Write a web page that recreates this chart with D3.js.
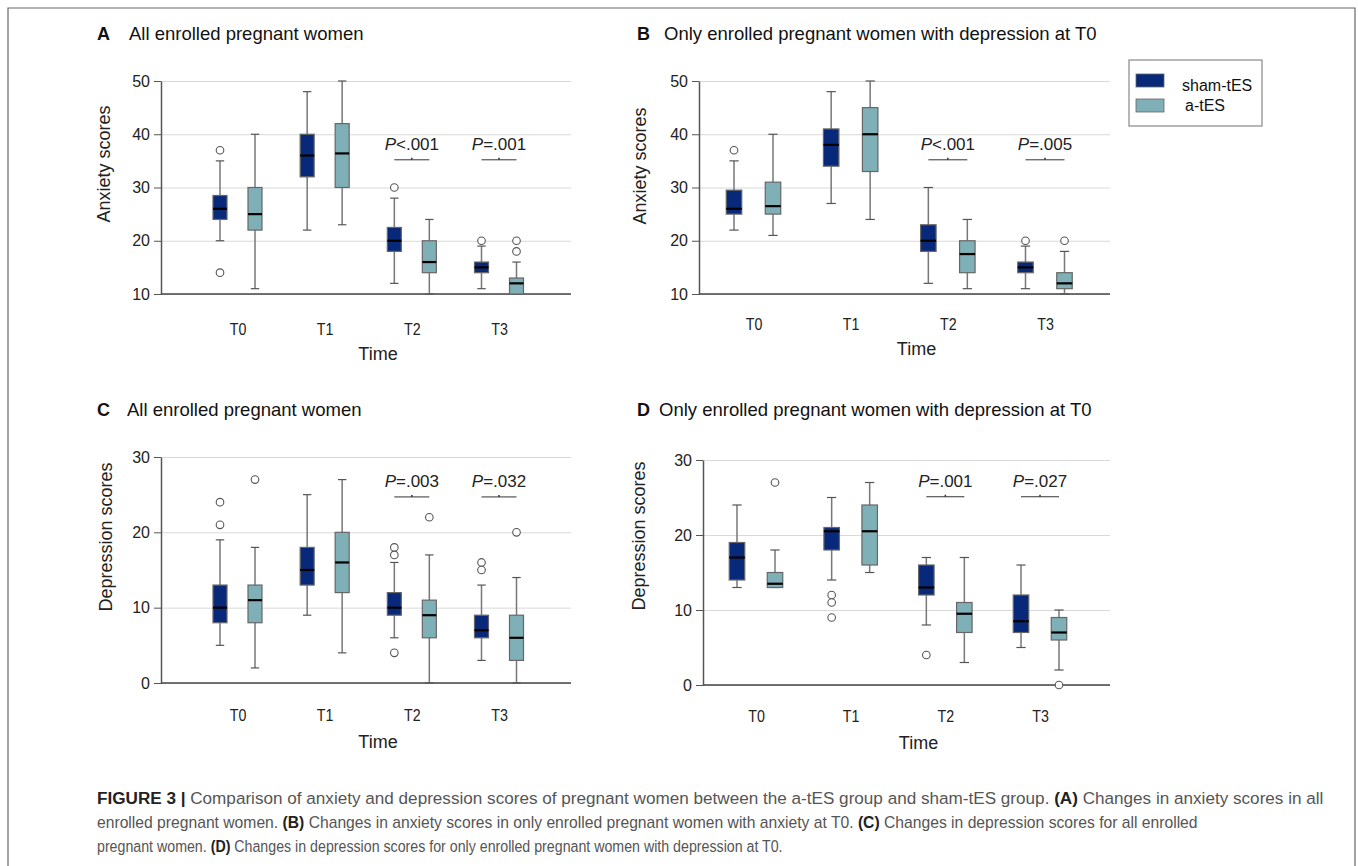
<!DOCTYPE html>
<html>
<head>
<meta charset="utf-8">
<script src="https://cdn.jsdelivr.net/npm/d3@7"></script>
<style>
  body { margin: 0; background: #fff; }
  svg { font-family: "Liberation Sans", Arial, sans-serif; }
  .grid line { stroke: #d9d9d9; }
  .grid .domain { display: none; }
</style>
</head>
<body>
<svg id="fig" width="1358" height="866"></svg>
<script>
// categories
const times = ['T0', 'T1', 'T2', 'T3'];
const groups = ['sham-tES', 'a-tES'];

// box stats per time: [lower whisker, Q1, median, Q3, upper whisker]
// A: anxiety, all enrolled
const anxAllSham = [[20, 24, 26, 28.5, 35], [22, 32, 36, 40, 48], [12, 18, 20, 22.5, 28], [11, 14, 15, 16, 19]];
const anxAllAct  = [[11, 22, 25, 30, 40], [23, 30, 36.4, 42, 50], [10, 14, 16, 20, 24], [10, 10, 12, 13, 16]];
const anxAllShamOut = [[37, 14], [], [30], [20]];
const anxAllActOut  = [[], [], [], [20, 18]];
const anxAllP = ['', '', 'P<.001', 'P=.001'];

// B: anxiety, only women with depression at T0
const anxDepSham = [[22, 25, 26, 29.5, 35], [27, 34, 38, 41, 48], [12, 18, 20, 23, 30], [11, 14, 15, 16, 19]];
const anxDepAct  = [[21, 25, 26.5, 31, 40], [24, 33, 40, 45, 50], [11, 14, 17.5, 20, 24], [10, 11, 12, 14, 18]];
const anxDepShamOut = [[37], [], [], [20]];
const anxDepActOut  = [[], [], [], [20]];
const anxDepP = ['', '', 'P<.001', 'P=.005'];

// C: depression, all enrolled
const depAllSham = [[5, 8, 10, 13, 19], [9, 13, 15, 18, 25], [6, 9, 10, 12, 16], [3, 6, 7, 9, 13]];
const depAllAct  = [[2, 8, 11, 13, 18], [4, 12, 16, 20, 27], [0, 6, 9, 11, 17], [0, 3, 6, 9, 14]];
const depAllShamOut = [[24, 21], [], [18, 17, 4], [16, 15]];
const depAllActOut  = [[27], [], [22], [20]];
const depAllP = ['', '', 'P=.003', 'P=.032'];

// D: depression, only women with depression at T0
const depDepSham = [[13, 14, 17, 19, 24], [14, 18, 20.5, 21, 25], [8, 12, 13, 16, 17], [5, 7, 8.5, 12, 16]];
const depDepAct  = [[13, 13, 13.5, 15, 18], [15, 16, 20.5, 24, 27], [3, 7, 9.5, 11, 17], [2, 6, 7, 9, 10]];
const depDepShamOut = [[], [12, 11, 9], [4], []];
const depDepActOut  = [[27], [], [], [0]];
const depDepP = ['', '', 'P=.001', 'P=.027'];

const anxTicks = [10, 20, 30, 40, 50];
const depTicks = [0, 10, 20, 30];

const colors = { 'sham-tES': '#08297a', 'a-tES': '#80b0b7' };

const panels = [
  { letter: 'A', title: 'All enrolled pregnant women', yLabel: 'Anxiety scores',
    domain: [10, 50], ticks: anxTicks, sham: anxAllSham, act: anxAllAct,
    shamOut: anxAllShamOut, actOut: anxAllActOut, pText: anxAllP, pLevel: 35.2,
    left: 161, right: 571, top: 81, bottom: 294, x0: 237.5, x1: 499, off: 17.5, bw: 14,
    titleX: 97, titleTextX: 129, titleY: 40, yTitleX: 110, yTitleY: 164, tickY: 335, timeY: 360 },
  { letter: 'B', title: 'Only enrolled pregnant women with depression at T0', yLabel: 'Anxiety scores',
    domain: [10, 50], ticks: anxTicks, sham: anxDepSham, act: anxDepAct,
    shamOut: anxDepShamOut, actOut: anxDepActOut, pText: anxDepP, pLevel: 35.2,
    left: 699, right: 1110, top: 81, bottom: 294, x0: 753.5, x1: 1045, off: 19.5, bw: 15.5,
    titleX: 637, titleTextX: 664, titleY: 40, yTitleX: 646, yTitleY: 166, tickY: 330, timeY: 355 },
  { letter: 'C', title: 'All enrolled pregnant women', yLabel: 'Depression scores',
    domain: [0, 30], ticks: depTicks, sham: depAllSham, act: depAllAct,
    shamOut: depAllShamOut, actOut: depAllActOut, pText: depAllP, pLevel: 24.7,
    left: 161, right: 571, top: 457, bottom: 683, x0: 237.5, x1: 499, off: 17.5, bw: 14,
    titleX: 97, titleTextX: 127, titleY: 416, yTitleX: 112, yTitleY: 537, tickY: 721, timeY: 748 },
  { letter: 'D', title: 'Only enrolled pregnant women with depression at T0', yLabel: 'Depression scores',
    domain: [0, 30], ticks: depTicks, sham: depDepSham, act: depDepAct,
    shamOut: depDepShamOut, actOut: depDepActOut, pText: depDepP, pLevel: 25.1,
    left: 703, right: 1110, top: 460, bottom: 685, x0: 756, x1: 1040, off: 19, bw: 15.5,
    titleX: 637, titleTextX: 659, titleY: 416, yTitleX: 645, yTitleY: 536, tickY: 722, timeY: 749 }
];

const svg = d3.select('#fig');

// outer frame (open at the bottom)
svg.append('path')
  .attr('d', 'M8,870 V8 H1355 V870')
  .attr('fill', 'none')
  .attr('stroke', '#666')
  .attr('stroke-width', 1.2);

panels.forEach(p => drawPanel(p));

function drawPanel(p) {
  const g = svg.append('g');

  const y = d3.scaleLinear().domain(p.domain).range([p.bottom, p.top]);
  const x = d3.scalePoint().domain(times).range([p.x0, p.x1]);
  const xg = d3.scalePoint().domain(groups).range([-p.off, p.off]);

  // gridlines
  g.append('g')
    .attr('class', 'grid')
    .attr('transform', `translate(${p.left},0)`)
    .call(d3.axisRight(y).tickValues(p.ticks).tickSize(p.right - p.left).tickFormat(''));

  // y axis
  const yAxis = g.append('g')
    .attr('transform', `translate(${p.left},0)`)
    .call(d3.axisLeft(y).tickValues(p.ticks).tickSize(7).tickPadding(4).tickSizeOuter(0));
  yAxis.select('.domain').attr('stroke', '#555').attr('stroke-width', 1.5);
  yAxis.selectAll('.tick line').attr('stroke', '#555');
  yAxis.selectAll('.tick text').attr('font-size', 16).attr('fill', '#222');

  // baseline
  g.append('line')
    .attr('x1', p.left).attr('x2', p.right)
    .attr('y1', y(p.domain[0])).attr('y2', y(p.domain[0]))
    .attr('stroke', '#444').attr('stroke-width', 1.5);

  // x axis labels (no ticks)
  const xAxis = g.append('g')
    .attr('transform', `translate(0,${p.tickY})`)
    .call(d3.axisBottom(x).tickSize(0).tickPadding(0));
  xAxis.select('.domain').remove();
  xAxis.selectAll('.tick text')
    .attr('dy', 0)
    .attr('y', 0)
    .attr('font-size', 15)
    .attr('fill', '#222')
    .attr('transform', 'scale(0.95,1.1)');

  // axis titles
  g.append('text')
    .attr('x', (p.left + p.right) / 2 + 12)
    .attr('y', p.timeY)
    .attr('text-anchor', 'middle')
    .attr('font-size', 18)
    .attr('fill', '#222')
    .text('Time');

  g.append('text')
    .attr('transform', `translate(${p.yTitleX},${p.yTitleY}) rotate(-90)`)
    .attr('text-anchor', 'middle')
    .attr('font-size', 18)
    .attr('fill', '#222')
    .text(p.yLabel);

  // panel title
  g.append('text')
    .attr('x', p.titleX).attr('y', p.titleY)
    .attr('font-size', 18).attr('font-weight', 'bold').attr('fill', '#111')
    .text(p.letter);
  g.append('text')
    .attr('x', p.titleTextX).attr('y', p.titleY)
    .attr('font-size', 18.5).attr('fill', '#111')
    .text(p.title);

  // boxes
  const rows = [];
  times.forEach((t, i) => {
    rows.push({ t, grp: groups[0], s: p.sham[i], out: p.shamOut[i] });
    rows.push({ t, grp: groups[1], s: p.act[i], out: p.actOut[i] });
  });

  const box = g.selectAll('.box')
    .data(rows)
    .join('g')
    .attr('class', 'box')
    .attr('transform', d => `translate(${x(d.t) + xg(d.grp)},0)`);

  // whiskers
  box.append('line')
    .attr('y1', d => y(d.s[0])).attr('y2', d => y(d.s[1]))
    .attr('stroke', '#777').attr('stroke-width', 1.5);
  box.append('line')
    .attr('y1', d => y(d.s[3])).attr('y2', d => y(d.s[4]))
    .attr('stroke', '#777').attr('stroke-width', 1.5);
  // caps
  box.selectAll('.capline')
    .data(d => [d.s[0], d.s[4]])
    .join('line')
    .attr('class', 'capline')
    .attr('x1', -p.bw * 0.3).attr('x2', p.bw * 0.3)
    .attr('y1', v => y(v)).attr('y2', v => y(v))
    .attr('stroke', '#555').attr('stroke-width', 1.2);

  box.append('rect')
    .attr('x', -p.bw / 2)
    .attr('width', p.bw)
    .attr('y', d => y(d.s[3]))
    .attr('height', d => y(d.s[1]) - y(d.s[3]))
    .attr('fill', d => colors[d.grp])
    .attr('stroke', '#666')
    .attr('stroke-width', 1.2);

  box.append('line')
    .attr('x1', -p.bw / 2).attr('x2', p.bw / 2)
    .attr('y1', d => y(d.s[2])).attr('y2', d => y(d.s[2]))
    .attr('stroke', '#000').attr('stroke-width', 2.2);

  // outliers
  box.selectAll('circle')
    .data(d => d.out)
    .join('circle')
    .attr('cx', 0)
    .attr('cy', v => y(v))
    .attr('r', 3.8)
    .attr('fill', '#fff')
    .attr('stroke', '#555')
    .attr('stroke-width', 1.1);

  // significance brackets
  const sig = times.map((t, i) => ({ t, label: p.pText[i] })).filter(d => d.label);
  const br = g.selectAll('.sig')
    .data(sig)
    .join('g')
    .attr('class', 'sig')
    .attr('transform', d => `translate(${x(d.t)},${y(p.pLevel)})`);
  br.append('line')
    .attr('x1', -p.off).attr('x2', p.off)
    .attr('stroke', '#333').attr('stroke-width', 1);
  br.append('line')
    .attr('y1', 0).attr('y2', -2)
    .attr('stroke', '#333').attr('stroke-width', 1.5);
  const lab = br.append('text')
    .attr('y', -10)
    .attr('text-anchor', 'middle')
    .attr('font-size', 17)
    .attr('fill', '#222');
  lab.append('tspan').attr('font-style', 'italic').text('P');
  lab.append('tspan').text(d => d.label.slice(1));
}

// legend
const leg = svg.append('g');
leg.append('rect')
  .attr('x', 1129).attr('y', 60).attr('width', 133).attr('height', 66)
  .attr('fill', '#fff').attr('stroke', '#888').attr('stroke-width', 1.2);
leg.selectAll('.item')
  .data(groups)
  .join('g')
  .attr('class', 'item')
  .each(function(d, i) {
    const it = d3.select(this);
    it.append('rect')
      .attr('x', 1136).attr('y', 74 + i * 25)
      .attr('width', 28).attr('height', 13)
      .attr('fill', colors[d]).attr('stroke', '#666').attr('stroke-width', 0.8);
    it.append('text')
      .attr('x', i === 0 ? 1182 : 1185).attr('y', 91 + i * 20)
      .attr('font-size', 16).attr('fill', '#111')
      .text(d);
  });

// caption
const capLines = [
  [['b', 'FIGURE 3 | '], ['n', 'Comparison of anxiety and depression scores of pregnant women between the a-tES group and sham-tES group. '], ['b', '(A)'], ['n', ' Changes in anxiety scores in all']],
  [['n', 'enrolled pregnant women. '], ['b', '(B)'], ['n', ' Changes in anxiety scores in only enrolled pregnant women with anxiety at T0. '], ['b', '(C)'], ['n', ' Changes in depression scores for all enrolled']],
  [['n', 'pregnant women. '], ['b', '(D)'], ['n', ' Changes in depression scores for only enrolled pregnant women with depression at T0.']]
];
const capWidths = [1228, 1101, 686];

capLines.forEach((line, i) => {
  const capX = 97, capY = 804 + i * 24;
  const t = svg.append('text')
    .attr('x', 0)
    .attr('y', 0)
    .attr('font-size', 17);
  line.forEach(([k, s]) => {
    t.append('tspan')
      .attr('font-weight', k === 'b' ? 'bold' : 'normal')
      .attr('fill', k === 'b' ? '#222' : '#555')
      .text(s);
  });
  // fit each line to the width it has in the figure (condensed face there)
  const sx = capWidths[i] / t.node().getComputedTextLength();
  t.attr('transform', `translate(${capX},${capY}) scale(${sx},1)`);
});
</script>
</body>
</html>
